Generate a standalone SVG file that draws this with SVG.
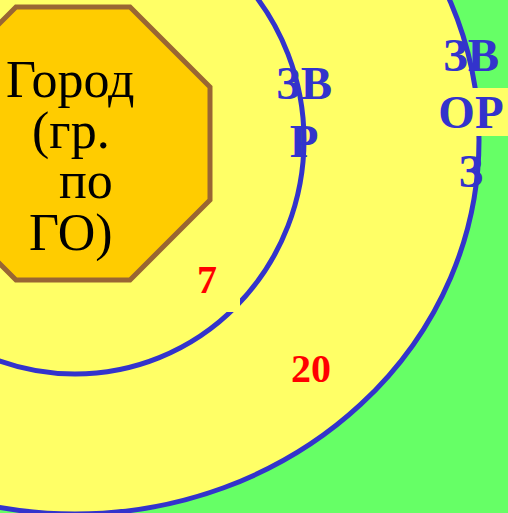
<svg xmlns="http://www.w3.org/2000/svg" width="508" height="513" viewBox="0 0 508 513">
<style>
.ring{fill:none;stroke:#3333CC;stroke-width:5}
.city{font-family:"Liberation Serif","Times New Roman",serif;font-size:52px;fill:#000}
.zone{font-family:"Liberation Serif","Times New Roman",serif;font-size:47px;font-weight:bold;fill:#3333CC;text-anchor:middle}
.num{font-family:"Liberation Serif","Times New Roman",serif;font-size:40px;font-weight:bold;fill:#FF0000}
</style>
<rect x="0" y="0" width="508" height="513" fill="#66FF66"/>
<g id="outer-zone">
<ellipse cx="75" cy="140" rx="404" ry="374" fill="#FFFF66" stroke="#3333CC" stroke-width="5"/>
</g>
<g id="inner-zone">
<ellipse class="ring" cx="75" cy="140" rx="229" ry="234"/>
</g>
<g id="city">
<polygon points="16,7 130,7 210,87 210,200 130,280 16,280 -64,200 -64,87" fill="#FFCC00" stroke="#996633" stroke-width="5"/>
<text class="city" x="6" y="97">Город</text>
<text class="city" x="32" y="148">(гр.</text>
<text class="city" x="59" y="198">по</text>
<text class="city" x="29" y="250">ГО)</text>
</g>
<g id="label-7">
<rect x="190" y="262" width="50" height="50" fill="#FFFF66"/>
<text class="num" x="197" y="293">7</text>
</g>
<g id="label-20">
<text class="num" x="291" y="382">20</text>
</g>
<g id="label-zvr">
<text class="zone" x="304" y="99">ЗВ</text>
<text class="zone" x="304" y="157">Р</text>
</g>
<g id="label-zvorz">
<rect x="437" y="88" width="71" height="48" fill="#FFFF66"/>
<text class="zone" x="471" y="71">ЗВ</text>
<text class="zone" x="471" y="128">ОР</text>
<text class="zone" x="471" y="187">З</text>
</g>
</svg>
